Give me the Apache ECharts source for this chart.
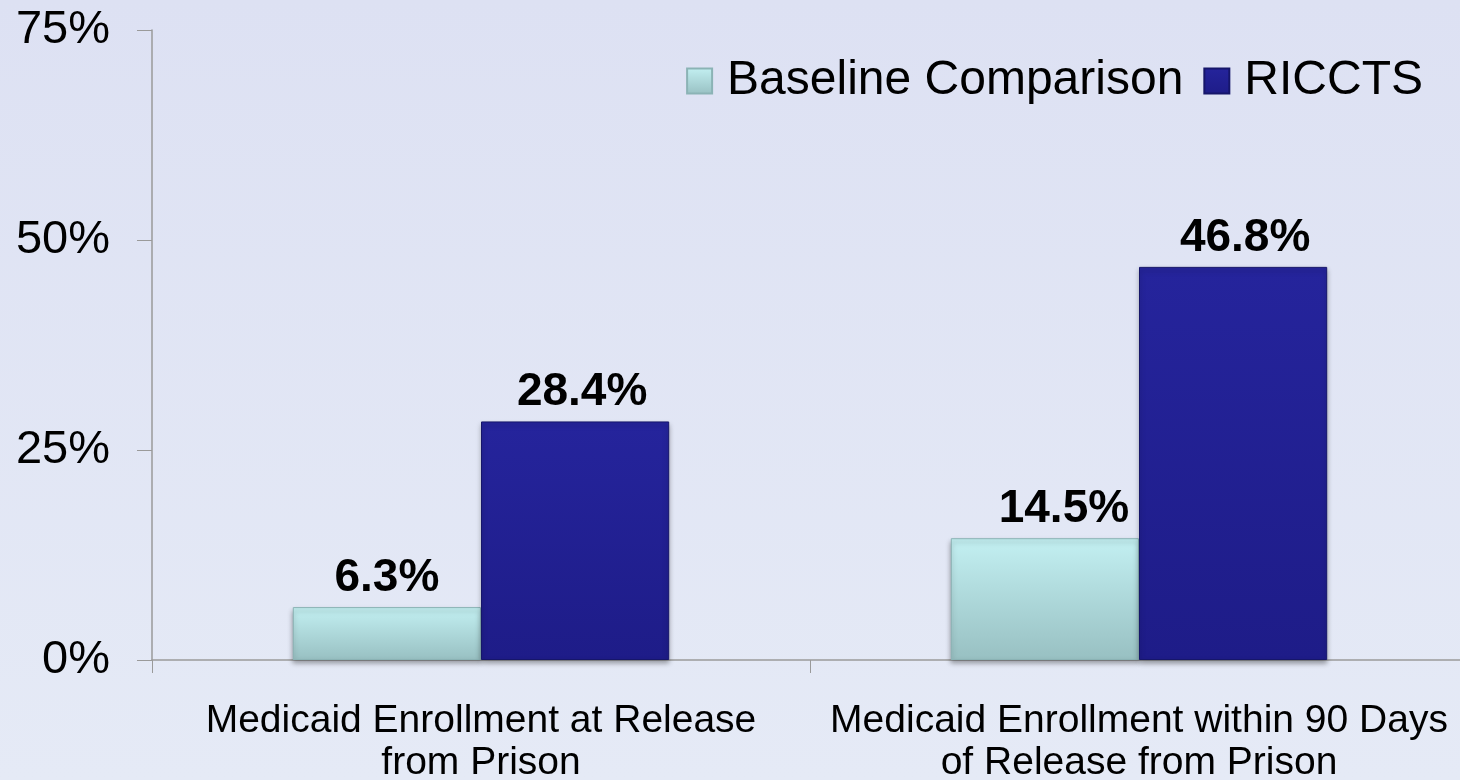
<!DOCTYPE html>
<html><head><meta charset="utf-8">
<script src="https://cdn.jsdelivr.net/npm/echarts@6/dist/echarts.min.js"></script>
<style>html,body{margin:0;padding:0;}#c{width:1460px;height:780px;}</style>
</head><body><div id="c"></div>
<script>
const categories = ['Medicaid Enrollment at Release\nfrom Prison', 'Medicaid Enrollment within 90 Days\nof Release from Prison'];
const seriesNames = ['Baseline Comparison', 'RICCTS'];
const baselineValues = [6.3, 14.5];
const ricctsValues = [28.4, 46.8];
const yTicks = [0, 25, 50, 75];

// label placement tweaks (style only, px)
const baselineLabelShift = [0, 19];
const ricctsLabelShift = [7, 12];

const FONT = '"Liberation Sans", Arial, sans-serif';
const chart = echarts.init(document.getElementById('c'));
const grad = (a, b) => new echarts.graphic.LinearGradient(0, 0, 0, 1, [{offset: 0, color: a}, {offset: 1, color: b}]);
const withShift = (vals, shifts) => vals.map((v, i) => ({value: v, label: {offset: [shifts[i], 0]}}));

const labelStyle = {show: true, position: 'top', distance: 6, fontSize: 46, fontWeight: 'bold', color: '#000',
  fontFamily: FONT, formatter: p => p.value.toFixed(1) + '%'};

chart.setOption({
  backgroundColor: grad('#dde1f3', '#e5eaf6'),
  animation: false,
  textStyle: {fontFamily: FONT},
  legend: {
    top: 51, right: 32,
    itemWidth: 25, itemHeight: 25, itemGap: 20,
    icon: 'rect',
    textStyle: {fontSize: 48, color: '#000', fontFamily: FONT, padding: [0, 0, 0, 10], lineHeight: 50},
    data: seriesNames
  },
  grid: {left: 152, width: 1316, top: 30, height: 630, containLabel: false, outerBoundsMode: 'none'},
  xAxis: {
    type: 'category',
    data: categories,
    axisLine: {lineStyle: {color: '#9a9a9a', width: 1.5}},
    axisTick: {show: true, length: 13, lineStyle: {color: '#9a9a9a'}},
    axisLabel: {fontSize: 39, color: '#000', fontFamily: FONT, lineHeight: 42, margin: 40, interval: 0}
  },
  yAxis: {
    type: 'value', min: yTicks[0], max: yTicks[yTicks.length - 1], interval: 25,
    splitLine: {show: false},
    axisLine: {show: true, lineStyle: {color: '#9a9a9a', width: 1.5}},
    axisTick: {show: true, length: 15, lineStyle: {color: '#9a9a9a'}},
    axisLabel: {fontSize: 47, color: '#000', fontFamily: FONT, margin: 42, formatter: '{value}%'}
  },
  series: [
    {
      name: seriesNames[0], type: 'bar', data: withShift(baselineValues, baselineLabelShift),
      barWidth: '28.6%', barGap: '0%',
      itemStyle: {color: grad('#c3f0f2', '#98c0c2'), borderColor: '#8bb3b5', borderWidth: 1,
        shadowColor: 'rgba(0,0,0,0.35)', shadowBlur: 5, shadowOffsetY: 3},
      label: labelStyle
    },
    {
      name: seriesNames[1], type: 'bar', data: withShift(ricctsValues, ricctsLabelShift),
      barWidth: '28.6%',
      itemStyle: {color: grad('#25249c', '#1e1c88'), borderColor: '#16166a', borderWidth: 1,
        shadowColor: 'rgba(0,0,0,0.35)', shadowBlur: 5, shadowOffsetY: 3},
      label: labelStyle
    }
  ]
});
</script></body></html>
